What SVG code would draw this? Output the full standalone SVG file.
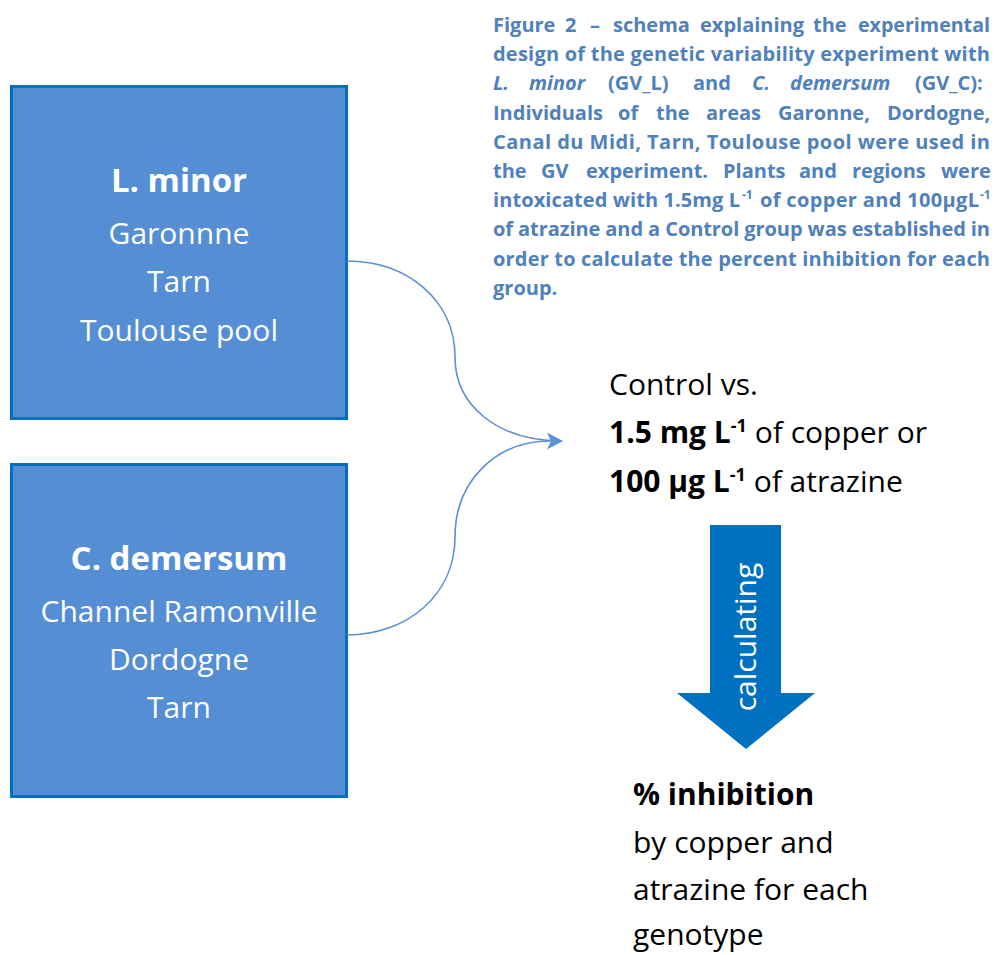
<svg xmlns="http://www.w3.org/2000/svg" width="997" height="955" viewBox="0 0 997 955">
<style>
.box{fill:#558ed5;stroke:#0070c0;stroke-width:3}
.bt{font-family:"Open Sans","Liberation Sans",sans-serif;fill:#fff;text-anchor:middle;font-size:30px}
.bh{font-weight:bold;font-size:33px}
.cap{font-family:"Open Sans","Liberation Sans",sans-serif;font-weight:bold;font-size:20px;fill:#4f81bd}
.rt{font-family:"Open Sans","Liberation Sans",sans-serif;font-size:30px;fill:#000}
.conn{fill:none;stroke:#5b8fd6;stroke-width:1.6}
</style>
<defs>
<marker id="ah" markerUnits="userSpaceOnUse" markerWidth="18" markerHeight="18" refX="15" refY="8.5" orient="auto" viewBox="0 0 18 17">
<path d="M0,0 L16,8.5 L0,17 L4,8.5 Z" fill="#5b8fd6"/>
</marker>
</defs>
<g id="caption" class="cap">
<text y="32"><tspan x="493">Figure</tspan><tspan x="565">2</tspan><tspan x="590">–</tspan><tspan x="613">schema</tspan><tspan x="700">explaining</tspan><tspan x="813">the</tspan><tspan x="858" textLength="132" lengthAdjust="spacingAndGlyphs">experimental</tspan></text>
<text x="493" y="61" textLength="497" lengthAdjust="spacing">design of the genetic variability experiment with</text>
<text y="90"><tspan x="493" font-style="italic">L.</tspan><tspan x="529" font-style="italic">minor</tspan><tspan x="608">(GV_L)</tspan><tspan x="693">and</tspan><tspan x="752" font-style="italic">C.</tspan><tspan x="790" font-style="italic">demersum</tspan><tspan x="915">(GV_C):</tspan></text>
<text y="120"><tspan x="493">Individuals</tspan><tspan x="618">of</tspan><tspan x="656">the</tspan><tspan x="706">areas</tspan><tspan x="778">Garonne,</tspan><tspan x="887">Dordogne,</tspan></text>
<text x="493" y="149" textLength="497" lengthAdjust="spacing">Canal du Midi, Tarn, Toulouse pool were used in</text>
<text y="178"><tspan x="493">the</tspan><tspan x="541">GV</tspan><tspan x="586">experiment.</tspan><tspan x="723">Plants</tspan><tspan x="799">and</tspan><tspan x="852">regions</tspan><tspan x="941">were</tspan></text>
<text y="207"><tspan x="493" textLength="247" lengthAdjust="spacing">intoxicated with 1.5mg L</tspan><tspan x="742" dy="-8" font-size="12">-1</tspan><tspan x="760" dy="8" textLength="219" lengthAdjust="spacing">of copper and 100µgL</tspan><tspan x="980" dy="-8" font-size="12">-1</tspan></text>
<text x="493" y="236" textLength="497" lengthAdjust="spacing">of atrazine and a Control group was established in</text>
<text x="493" y="266" textLength="497" lengthAdjust="spacing">order to calculate the percent inhibition for each</text>
<text x="493" y="295">group.</text>
</g>
<g id="node-lminor">
<rect class="box" x="11.5" y="86.5" width="335" height="332"/>
<text class="bt bh" x="179" y="192">L. minor</text>
<text class="bt" x="179" y="244">Garonnne</text>
<text class="bt" x="179" y="292">Tarn</text>
<text class="bt" x="179" y="341">Toulouse pool</text>
</g>
<g id="node-cdemersum">
<rect class="box" x="11.5" y="464.5" width="335" height="332"/>
<text class="bt bh" x="179" y="570">C. demersum</text>
<text class="bt" x="179" y="622">Channel Ramonville</text>
<text class="bt" x="179" y="670">Dordogne</text>
<text class="bt" x="179" y="718">Tarn</text>
</g>
<g id="connectors">
<path class="conn" d="M347,261 C407,261 455,300 455,357 C455,405 497,441 562,441" marker-end="url(#ah)"/>
<path class="conn" d="M347,635 C407,635 455,595 455,537 C455,480 497,441 550,441"/>
</g>
<g id="node-treatment" class="rt">
<text x="609" y="395">Control vs.</text>
<text x="609" y="443"><tspan font-weight="bold">1.5 mg L</tspan><tspan dy="-11" font-size="18" font-weight="bold">-1</tspan><tspan dy="11"> of copper or</tspan></text>
<text x="609" y="492"><tspan font-weight="bold">100 µg L</tspan><tspan dy="-11" font-size="18" font-weight="bold">-1</tspan><tspan dy="11"> of atrazine</tspan></text>
</g>
<g id="arrow-calculating">
<polygon points="710,525 781,525 781,693 815,693 746,749 677,693 710,693" fill="#0070c0"/>
<text transform="translate(756,637) rotate(-90)" text-anchor="middle" font-family="'Open Sans','Liberation Sans',sans-serif" font-size="30" fill="#fff">calculating</text>
</g>
<g id="node-result" class="rt">
<text x="633" y="805" font-weight="bold">% inhibition</text>
<text x="633" y="853">by copper and</text>
<text x="633" y="900">atrazine for each</text>
<text x="633" y="945">genotype</text>
</g>
</svg>
